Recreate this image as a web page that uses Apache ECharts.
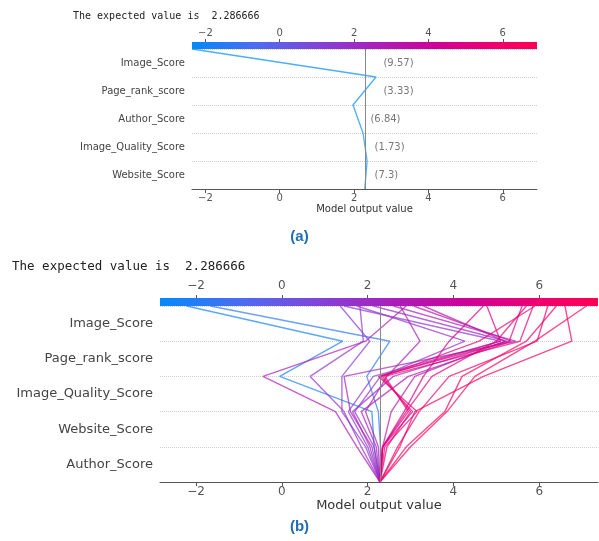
<!DOCTYPE html>
<html><head><meta charset="utf-8">
<script src="https://cdn.jsdelivr.net/npm/echarts@6/dist/echarts.min.js"></script>
<style>html,body{margin:0;padding:0;background:#fff}#c{width:599px;height:541px}</style>
</head><body><div id="c"></div>
<script>
// ---------- data ----------
const expectedValue = 2.286666;
const titleText = 'The expected value is  2.286666';
const tickValues = [-2, 0, 2, 4, 6];
const xRangeA = [-2.36, 6.92];
const xRangeB = [-2.84, 7.37];

// panel (a): rows listed bottom -> top
const featuresA = ['Website_Score', 'Image_Quality_Score', 'Author_Score', 'Page_rank_score', 'Image_Score'];
const featureValuesA = [7.3, 1.73, 6.84, 3.33, 9.57];
// cumulative output at each row boundary, bottom (base value) -> top (prediction)
const lineA = [2.287, 2.35, 2.24, 1.97, 2.59, -2.36];

// panel (b): rows listed bottom -> top
const featuresB = ['Author_Score', 'Website_Score', 'Image_Quality_Score', 'Page_rank_score', 'Image_Score'];
const lineB01 = [2.287, 2.15, 2.10, -0.05, 1.42, -2.22];
const lineB02 = [2.287, 2.30, 2.25, 1.98, 2.52, -1.67];
const lineB03 = [2.287, 1.75, 1.25, -0.44, 1.95, 2.90];
const lineB04 = [2.287, 1.85, 1.45, 0.66, 1.90, 1.82];
const lineB05 = [2.287, 1.95, 1.40, 1.40, 2.05, 1.36];
const lineB06 = [2.287, 2.00, 1.55, 2.13, 5.10, 1.45];
const lineB07 = [2.287, 2.05, 1.65, 2.60, 5.25, 2.13];
const lineB08 = [2.287, 2.10, 1.60, 1.45, 5.45, 2.60];
const lineB09 = [2.287, 2.20, 1.85, 2.95, 5.35, 3.07];
const lineB10 = [2.287, 2.15, 1.70, 2.30, 4.27, 1.75];
const lineB11 = [2.287, 2.25, 1.95, 2.45, 3.22, 2.76];
const lineB12 = [2.287, 2.35, 2.55, 3.10, 5.20, 3.30];
const lineB13 = [2.287, 2.35, 3.05, 2.30, 5.10, 4.78];
const lineB14 = [2.287, 2.40, 3.15, 2.25, 5.30, 5.60];
const lineB15 = [2.287, 2.35, 2.95, 2.40, 5.55, 5.86];
const lineB16 = [2.287, 2.75, 3.10, 4.70, 6.76, 6.60];
const lineB17 = [2.287, 3.00, 3.85, 4.50, 5.90, 7.10];
const lineB18 = [2.287, 2.70, 3.20, 3.90, 5.95, 6.20];
const lineB19 = [2.287, 2.35, 2.90, 3.50, 5.00, 5.70];
const lineB20 = [2.287, 2.35, 2.85, 3.30, 3.90, 4.70];
const lineB21 = [2.287, 2.45, 3.00, 2.35, 4.60, 5.90];
const lineB22 = [2.287, 2.90, 3.80, 4.20, 5.70, 6.40];
const linesB = [lineB01, lineB02, lineB03, lineB04, lineB05, lineB06, lineB07, lineB08, lineB09, lineB10, lineB11,
  lineB12, lineB13, lineB14, lineB15, lineB16, lineB17, lineB18, lineB19, lineB20, lineB21, lineB22];

// ---------- styling ----------
const FONT = 'DejaVu Sans';
const cmapStops = [
  [0.00, 0, 139, 251],
  [0.20, 79, 107, 240],
  [0.40, 138, 60, 212],
  [0.55, 173, 28, 181],
  [0.70, 207, 0, 151],
  [0.85, 236, 0, 115],
  [1.00, 255, 0, 82]
];
function cmap(t) {
  t = Math.max(0, Math.min(1, t));
  for (let i = 1; i < cmapStops.length; i++) {
    const a = cmapStops[i - 1], b = cmapStops[i];
    if (t <= b[0]) {
      const f = (t - a[0]) / (b[0] - a[0]);
      const c = [1, 2, 3].map(k => Math.round(a[k] + (b[k] - a[k]) * f));
      return 'rgb(' + c.join(',') + ')';
    }
  }
  return 'rgb(255,0,82)';
}
const barGradient = new echarts.graphic.LinearGradient(0, 0, 1, 0,
  cmapStops.map(s => ({ offset: s[0], color: 'rgb(' + s[1] + ',' + s[2] + ',' + s[3] + ')' })));
const fmt = v => (v < 0 ? '\u2212' + Math.abs(v) : String(v));

function xAxesFor(gridIndex, range, o) {
  return [
    { // bottom axis
      type: 'value', gridIndex, position: 'bottom', min: range[0], max: range[1],
      axisLine: { show: true, lineStyle: { color: '#555', width: 1 } },
      axisTick: { show: true, customValues: tickValues, length: 4, lineStyle: { color: '#555' } },
      axisLabel: { customValues: tickValues, formatter: fmt, fontSize: o.tick, color: '#555', margin: 4, fontFamily: FONT },
      splitLine: { show: false },
      name: 'Model output value', nameLocation: 'middle', nameGap: o.nameGap,
      nameTextStyle: { fontSize: o.name, color: '#333', fontFamily: FONT }
    },
    { // colour bar
      type: 'value', gridIndex, position: 'top', min: range[0], max: range[1], offset: o.barW / 2,
      axisLine: { show: true, lineStyle: { color: barGradient, width: o.barW, cap: 'butt' } },
      axisTick: { show: false }, axisLabel: { show: false }, splitLine: { show: false }
    },
    { // top ticks / labels
      type: 'value', gridIndex, position: 'top', min: range[0], max: range[1], offset: o.barW,
      axisLine: { show: false },
      axisTick: { show: true, customValues: tickValues, length: 3, lineStyle: { color: '#555' } },
      axisLabel: { customValues: tickValues, formatter: fmt, fontSize: o.tick, color: '#555', margin: o.topMargin, fontFamily: FONT },
      splitLine: { show: false }
    }
  ];
}
function yAxesFor(gridIndex, feats, fs) {
  return [
    {
      type: 'value', gridIndex, position: 'left', min: 0, max: 5, interval: 1,
      axisLine: { show: false }, axisTick: { show: false }, axisLabel: { show: false },
      splitLine: { show: true, lineStyle: { type: 'dotted', color: '#cfcfcf', width: 1 } }
    },
    {
      type: 'category', gridIndex, position: 'left', offset: 0, data: feats, boundaryGap: true,
      axisLine: { show: false }, axisTick: { show: false }, splitLine: { show: false },
      axisLabel: { color: '#444', fontSize: fs, margin: 7, fontFamily: FONT }
    }
  ];
}
const vline = {
  symbol: ['none', 'none'], silent: true, label: { show: false },
  lineStyle: { color: '#888', width: 1, type: 'solid' },
  data: [{ xAxis: expectedValue }]
};

const series = [];
// panel (a)
series.push({
  type: 'line', xAxisIndex: 0, yAxisIndex: 0, data: lineA.map((v, i) => [v, i]),
  showSymbol: false, silent: true, z: 3,
  lineStyle: { color: cmap((lineA[5] - xRangeA[0]) / (xRangeA[1] - xRangeA[0])), width: 1.3, opacity: 0.7 },
  markLine: vline
});
series.push({
  type: 'scatter', xAxisIndex: 0, yAxisIndex: 0, symbolSize: 0, silent: true,
  data: featureValuesA.map((v, i) => ({ value: [Math.max(lineA[i], lineA[i + 1]) + 0.2, i + 0.5], v })),
  label: {
    show: true, position: 'right', distance: 0, color: '#555', fontSize: 10, fontFamily: FONT,
    formatter: p => '(' + p.data.v + ')'
  }
});
// panel (b)
linesB.forEach((ln, k) => {
  series.push({
    type: 'line', xAxisIndex: 3, yAxisIndex: 2, data: ln.map((v, i) => [v, i]),
    showSymbol: false, silent: true, z: 3,
    lineStyle: { color: cmap((ln[5] - xRangeB[0]) / (xRangeB[1] - xRangeB[0])), width: 1.4, opacity: 0.7 },
    markLine: k === 0 ? vline : undefined
  });
});

const chart = echarts.init(document.getElementById('c'), null, { renderer: 'canvas' });
chart.setOption({
  animation: false,
  backgroundColor: '#fff',
  title: [
    { text: titleText, left: 73, top: 11, padding: 0,
      textStyle: { fontFamily: 'DejaVu Sans Mono', fontSize: 10, fontWeight: 'normal', color: '#222' } },
    { text: titleText, left: 12, top: 260, padding: 0,
      textStyle: { fontFamily: 'DejaVu Sans Mono', fontSize: 12.5, fontWeight: 'normal', color: '#222' } },
    { text: '(a)', left: 'center', top: 229, padding: 0,
      textStyle: { fontFamily: 'Liberation Sans', fontSize: 15, fontWeight: 'bold', color: '#1f6db3' } },
    { text: '(b)', left: 'center', top: 519, padding: 0,
      textStyle: { fontFamily: 'Liberation Sans', fontSize: 15, fontWeight: 'bold', color: '#1f6db3' } }
  ],
  grid: [
    { left: 192, right: 62, top: 49, height: 140, outerBoundsMode: 'none', containLabel: false },
    { left: 160, right: 1, top: 306, height: 176, outerBoundsMode: 'none', containLabel: false }
  ],
  xAxis: [].concat(
    xAxesFor(0, xRangeA, { tick: 10, name: 10, nameGap: 15, barW: 7, topMargin: 4 }),
    xAxesFor(1, xRangeB, { tick: 12, name: 13, nameGap: 16, barW: 8, topMargin: 6 })
  ),
  yAxis: [].concat(yAxesFor(0, featuresA, 10), yAxesFor(1, featuresB, 13)),
  series
});
</script>
</body></html>
